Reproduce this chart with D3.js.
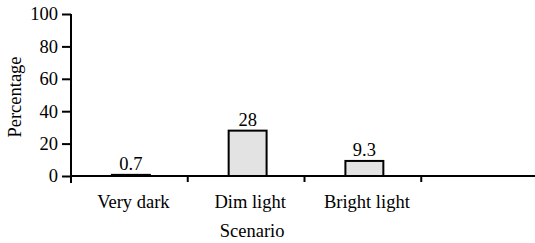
<!DOCTYPE html>
<html>
<head>
<meta charset="utf-8">
<script src="https://cdn.jsdelivr.net/npm/d3@7"></script>
<style>
  body { margin: 0; background: #fff; }
</style>
</head>
<body>
<div id="chart"></div>
<script>
const categories = ['Very dark', 'Dim light', 'Bright light', ''];
const values = [0.7, 28, 9.3];
const valueLabels = ['0.7', '28', '9.3'];
const yTicks = [0, 20, 40, 60, 80, 100];

const width = 535;
const height = 243;
const margin = { top: 14, right: -3, bottom: 67, left: 71 };
const font = "'Liberation Serif', 'DejaVu Serif', serif";
const fontSize = '18.5px';

const svg = d3.select('#chart')
  .append('svg')
  .attr('width', width)
  .attr('height', height)
  .style('font-family', font);

const x = d3.scaleBand()
  .domain(categories)
  .range([margin.left, width - margin.right]);

const y = d3.scaleLinear()
  .domain([0, 100])
  .range([height - margin.bottom, margin.top]);

const barW = x.bandwidth() * 0.325;

// Y axis
const yAxis = svg.append('g')
  .attr('transform', `translate(${margin.left},0)`)
  .call(d3.axisLeft(y).tickValues(yTicks).tickSize(9).tickPadding(4));
yAxis.attr('font-family', null).attr('font-size', null);
yAxis.select('.domain')
  .attr('d', `M0,${y(100)}V${y(0) + 7}`)
  .attr('stroke-width', 2);
yAxis.selectAll('.tick line').attr('stroke-width', 2);
yAxis.selectAll('.tick text')
  .style('font-family', font)
  .style('font-size', fontSize)
  .attr('fill', '#000');

// X axis line and boundary ticks
svg.append('line')
  .attr('x1', margin.left)
  .attr('x2', width - margin.right)
  .attr('y1', y(0))
  .attr('y2', y(0))
  .attr('stroke', '#000')
  .attr('stroke-width', 2);

svg.selectAll('.xtick')
  .data(categories.slice(1))
  .join('line')
  .attr('class', 'xtick')
  .attr('x1', d => x(d))
  .attr('x2', d => x(d))
  .attr('y1', y(0))
  .attr('y2', y(0) + 6)
  .attr('stroke', '#000')
  .attr('stroke-width', 2);

// Category labels
svg.selectAll('.xlabel')
  .data(categories)
  .join('text')
  .attr('class', 'xlabel')
  .attr('x', d => x(d) + x.bandwidth() / 2 + 4)
  .attr('y', 208)
  .attr('text-anchor', 'middle')
  .style('font-size', fontSize)
  .text(d => d);

// Bars
svg.selectAll('.bar')
  .data(values)
  .join('rect')
  .attr('class', 'bar')
  .attr('x', (d, i) => x(categories[i]) + x.bandwidth() / 2 - barW / 2 + 1.5)
  .attr('y', d => y(d))
  .attr('width', barW)
  .attr('height', d => y(0) - y(d))
  .attr('fill', '#e3e3e3')
  .attr('stroke', '#000')
  .attr('stroke-width', 2);

// Value labels
svg.selectAll('.vlabel')
  .data(values)
  .join('text')
  .attr('class', 'vlabel')
  .attr('x', (d, i) => x(categories[i]) + x.bandwidth() / 2 + 1.5)
  .attr('y', d => y(d) - 5)
  .attr('text-anchor', 'middle')
  .style('font-size', fontSize)
  .text((d, i) => valueLabels[i]);

// Axis titles
svg.append('text')
  .attr('x', x(categories[1]) + x.bandwidth() / 2 + 6)
  .attr('y', 237)
  .attr('text-anchor', 'middle')
  .style('font-size', fontSize)
  .text('Scenario');

svg.append('text')
  .attr('transform', `translate(21,${(y(0) + y(100)) / 2 + 2}) rotate(-90)`)
  .attr('text-anchor', 'middle')
  .style('font-size', fontSize)
  .text('Percentage');
</script>
</body>
</html>
